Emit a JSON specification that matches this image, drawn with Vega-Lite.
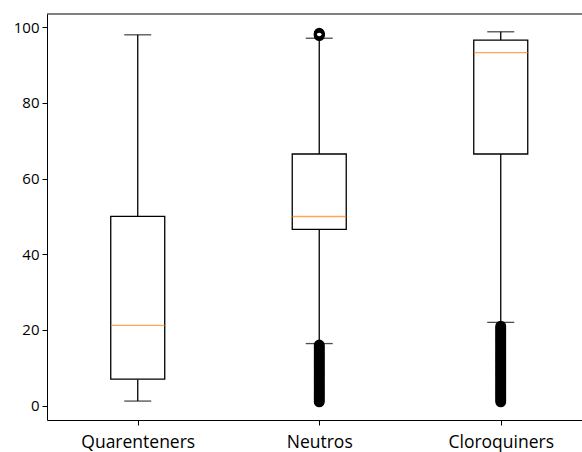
{
  "$schema": "https://vega.github.io/schema/vega-lite/v6.json",
  "autosize": {"type": "none"},
  "padding": {"left": 47, "top": 14, "right": 0, "bottom": 32},
  "width": 535,
  "height": 406,
  "background": "white",
  "config": {
    "view": {"stroke": null},
    "font": "Open Sans",
    "axis": {
      "grid": false,
      "domainColor": "#000",
      "domainWidth": 1,
      "tickColor": "#000",
      "tickSize": 5,
      "tickWidth": 1,
      "labelColor": "#000",
      "labelFont": "Open Sans",
      "title": null
    }
  },
  "datasets": {
    "boxes": [
      {"group": "Quarenteners", "lower": 1.2, "q1": 7.0, "median": 21.2, "q3": 50.0, "upper": 98.0},
      {"group": "Neutros", "lower": 16.4, "q1": 46.6, "median": 50.0, "q3": 66.5, "upper": 97.1},
      {"group": "Cloroquiners", "lower": 22.0, "q1": 66.5, "median": 93.3, "q3": 96.6, "upper": 98.8}
    ],
    "outliers": [
      {"group": "Neutros", "value": 97.8}, {"group": "Neutros", "value": 98.0},
      {"group": "Neutros", "value": 98.2}, {"group": "Neutros", "value": 98.4},
      {"group": "Neutros", "value": 1.0}, {"group": "Neutros", "value": 1.5},
      {"group": "Neutros", "value": 2.0}, {"group": "Neutros", "value": 2.5},
      {"group": "Neutros", "value": 3.0}, {"group": "Neutros", "value": 3.5},
      {"group": "Neutros", "value": 4.0}, {"group": "Neutros", "value": 4.5},
      {"group": "Neutros", "value": 5.0}, {"group": "Neutros", "value": 5.5},
      {"group": "Neutros", "value": 6.0}, {"group": "Neutros", "value": 6.5},
      {"group": "Neutros", "value": 7.0}, {"group": "Neutros", "value": 7.5},
      {"group": "Neutros", "value": 8.0}, {"group": "Neutros", "value": 8.5},
      {"group": "Neutros", "value": 9.0}, {"group": "Neutros", "value": 9.5},
      {"group": "Neutros", "value": 10.0}, {"group": "Neutros", "value": 10.5},
      {"group": "Neutros", "value": 11.0}, {"group": "Neutros", "value": 11.5},
      {"group": "Neutros", "value": 12.0}, {"group": "Neutros", "value": 12.5},
      {"group": "Neutros", "value": 13.0}, {"group": "Neutros", "value": 13.5},
      {"group": "Neutros", "value": 14.0}, {"group": "Neutros", "value": 14.5},
      {"group": "Neutros", "value": 15.0}, {"group": "Neutros", "value": 15.5},
      {"group": "Neutros", "value": 16.0},
      {"group": "Cloroquiners", "value": 1.0}, {"group": "Cloroquiners", "value": 1.5},
      {"group": "Cloroquiners", "value": 2.0}, {"group": "Cloroquiners", "value": 2.5},
      {"group": "Cloroquiners", "value": 3.0}, {"group": "Cloroquiners", "value": 3.5},
      {"group": "Cloroquiners", "value": 4.0}, {"group": "Cloroquiners", "value": 4.5},
      {"group": "Cloroquiners", "value": 5.0}, {"group": "Cloroquiners", "value": 5.5},
      {"group": "Cloroquiners", "value": 6.0}, {"group": "Cloroquiners", "value": 6.5},
      {"group": "Cloroquiners", "value": 7.0}, {"group": "Cloroquiners", "value": 7.5},
      {"group": "Cloroquiners", "value": 8.0}, {"group": "Cloroquiners", "value": 8.5},
      {"group": "Cloroquiners", "value": 9.0}, {"group": "Cloroquiners", "value": 9.5},
      {"group": "Cloroquiners", "value": 10.0}, {"group": "Cloroquiners", "value": 10.5},
      {"group": "Cloroquiners", "value": 11.0}, {"group": "Cloroquiners", "value": 11.5},
      {"group": "Cloroquiners", "value": 12.0}, {"group": "Cloroquiners", "value": 12.5},
      {"group": "Cloroquiners", "value": 13.0}, {"group": "Cloroquiners", "value": 13.5},
      {"group": "Cloroquiners", "value": 14.0}, {"group": "Cloroquiners", "value": 14.5},
      {"group": "Cloroquiners", "value": 15.0}, {"group": "Cloroquiners", "value": 15.5},
      {"group": "Cloroquiners", "value": 16.0}, {"group": "Cloroquiners", "value": 16.5},
      {"group": "Cloroquiners", "value": 17.0}, {"group": "Cloroquiners", "value": 17.5},
      {"group": "Cloroquiners", "value": 18.0}, {"group": "Cloroquiners", "value": 18.5},
      {"group": "Cloroquiners", "value": 19.0}, {"group": "Cloroquiners", "value": 19.5},
      {"group": "Cloroquiners", "value": 20.0}, {"group": "Cloroquiners", "value": 20.5},
      {"group": "Cloroquiners", "value": 21.0}
    ]
  },
  "layer": [
    {
      "data": {"name": "boxes"},
      "mark": {"type": "rule", "color": "#000", "strokeWidth": 1.3},
      "encoding": {
        "x": {
          "field": "group",
          "type": "nominal",
          "scale": {
            "type": "point",
            "domain": ["Quarenteners", "Neutros", "Cloroquiners"],
            "padding": 0.4738,
            "align": 0.5276
          },
          "axis": {"labelAngle": 0, "labelFontSize": 17.5, "labelPadding": 8}
        },
        "y": {
          "field": "q3", "type": "quantitative",
          "scale": {"domain": [-3.8, 103.5], "nice": false, "zero": false},
          "axis": {"values": [0, 20, 40, 60, 80, 100], "labelFontSize": 15, "labelPadding": 3}
        },
        "y2": {"field": "upper"}
      }
    },
    {
      "data": {"name": "boxes"},
      "mark": {"type": "rule", "color": "#000", "strokeWidth": 1.3},
      "encoding": {
        "x": {"field": "group", "type": "nominal"},
        "y": {"field": "lower", "type": "quantitative"},
        "y2": {"field": "q1"}
      }
    },
    {
      "data": {"name": "boxes"},
      "mark": {"type": "tick", "color": "#000", "size": 27, "thickness": 1.3, "orient": "horizontal"},
      "encoding": {
        "x": {"field": "group", "type": "nominal"},
        "y": {"field": "upper", "type": "quantitative"}
      }
    },
    {
      "data": {"name": "boxes"},
      "mark": {"type": "tick", "color": "#000", "size": 27, "thickness": 1.3, "orient": "horizontal"},
      "encoding": {
        "x": {"field": "group", "type": "nominal"},
        "y": {"field": "lower", "type": "quantitative"}
      }
    },
    {
      "data": {"name": "boxes"},
      "mark": {"type": "bar", "fill": "white", "stroke": "#000", "strokeWidth": 1.3, "size": 54},
      "encoding": {
        "x": {"field": "group", "type": "nominal"},
        "y": {"field": "q1", "type": "quantitative"},
        "y2": {"field": "q3"}
      }
    },
    {
      "data": {"name": "boxes"},
      "mark": {"type": "tick", "color": "#ff7f0e", "size": 54, "thickness": 1.4, "orient": "horizontal"},
      "encoding": {
        "x": {"field": "group", "type": "nominal"},
        "y": {"field": "median", "type": "quantitative"}
      }
    },
    {
      "data": {"name": "outliers"},
      "mark": {"type": "point", "shape": "circle", "filled": false, "color": "#000", "size": 70, "strokeWidth": 2.6, "opacity": 1},
      "encoding": {
        "x": {"field": "group", "type": "nominal"},
        "y": {"field": "value", "type": "quantitative"}
      }
    },
    {
      "data": {"values": [{}]},
      "mark": {"type": "rule", "color": "#000", "strokeWidth": 1},
      "encoding": {"y": {"datum": 103.5}}
    }
  ]
}
